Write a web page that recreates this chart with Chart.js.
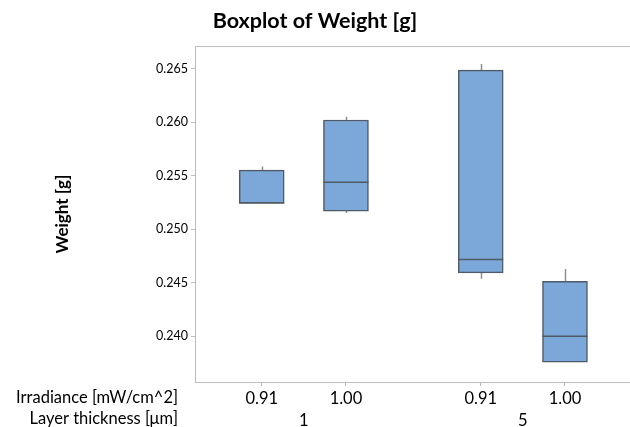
<!DOCTYPE html>
<html>
<head>
<meta charset="utf-8">
<script src="https://cdn.jsdelivr.net/npm/chart.js@4/dist/chart.umd.min.js"></script>
<style>
html,body{margin:0;padding:0;background:#fff;overflow:hidden;}
#wrap{width:630px;height:427px;position:relative;}
</style>
</head>
<body>
<div id="wrap"><canvas id="c" width="630" height="427"></canvas></div>
<script>
// ---- data ----
const irradiance = ['0.91', '1.00', '0.91', '1.00'];
const thickness = ['1', '5'];
const boxPositions = [1, 2, 3.6, 4.6];
const groupCenters = [1.5, 4.1];
const whiskerLow = [0.25241, 0.25150, 0.24536, 0.23758];
const q1 = [0.25241, 0.25169, 0.24592, 0.23758];
const median = [0.25247, 0.25439, 0.24717, 0.24000];
const q3 = [0.25551, 0.26020, 0.26485, 0.24512];
const whiskerHigh = [0.25585, 0.26050, 0.26544, 0.24627];
const yTicks = [0.240, 0.245, 0.250, 0.255, 0.260, 0.265];
const rowTitles = ['Irradiance [mW/cm^2]', 'Layer thickness [\u03bcm]'];

const FONT = 'Lato, "Noto Sans", sans-serif';
const AXIS_GRAY = '#bdbdbd';

const boxPlugin = {
  id: 'boxParts',
  beforeDatasetsDraw(chart) {
    const ctx = chart.ctx, y = chart.scales.y, x = chart.scales.x;
    ctx.save();
    ctx.strokeStyle = '#8f8f8f';
    ctx.lineWidth = 1.5;
    boxPositions.forEach((p, i) => {
      const px = Math.round(x.getPixelForValue(p)) + 0.5;
      ctx.beginPath();
      ctx.moveTo(px, y.getPixelForValue(q3[i]));
      ctx.lineTo(px, y.getPixelForValue(whiskerHigh[i]));
      ctx.moveTo(px, y.getPixelForValue(q1[i]));
      ctx.lineTo(px, y.getPixelForValue(whiskerLow[i]));
      ctx.stroke();
    });
    ctx.restore();
  },
  afterDatasetsDraw(chart) {
    const ctx = chart.ctx, y = chart.scales.y;
    const meta = chart.getDatasetMeta(0);
    ctx.save();
    ctx.strokeStyle = '#4f5a66';
    ctx.lineWidth = 1.5;
    meta.data.forEach((bar, i) => {
      const py = y.getPixelForValue(median[i]);
      ctx.beginPath();
      ctx.moveTo(bar.x - bar.width / 2, py);
      ctx.lineTo(bar.x + bar.width / 2, py);
      ctx.stroke();
    });
    ctx.restore();
  },
  afterDraw(chart) {
    const ctx = chart.ctx, a = chart.chartArea;
    ctx.save();
    ctx.strokeStyle = AXIS_GRAY;
    ctx.lineWidth = 1;
    ctx.beginPath();
    ctx.moveTo(a.left, a.top + 0.5);
    ctx.lineTo(a.right, a.top + 0.5);
    ctx.stroke();
    ctx.fillStyle = '#000';
    ctx.font = '16.5px ' + FONT;
    ctx.textAlign = 'right';
    ctx.textBaseline = 'middle';
    ctx.fillText(rowTitles[0], 178, 398);
    ctx.fillText(rowTitles[1], 178, 419);
    ctx.restore();
  }
};

new Chart(document.getElementById('c'), {
  type: 'bar',
  data: {
    datasets: [{
      data: boxPositions.map((p, i) => ({ x: p, y: [q1[i], q3[i]] })),
      backgroundColor: '#7ba7d9',
      borderColor: '#4f5a66',
      borderWidth: 1.5,
      borderSkipped: false,
      barThickness: 45
    }]
  },
  options: {
    responsive: false,
    animation: false,
    layout: { padding: 0 },
    plugins: {
      legend: { display: false },
      tooltip: { enabled: false },
      title: {
        display: true,
        text: 'Boxplot of Weight [g]',
        color: '#000',
        font: { family: FONT, size: 21.5, weight: 'bold', lineHeight: 1.2 },
        padding: { top: 8, bottom: 12.2 }
      }
    },
    scales: {
      x: {
        type: 'linear',
        offset: false,
        min: 0.208,
        max: 5.372,
        afterBuildTicks(scale) {
          scale.ticks = boxPositions.map(v => ({ value: v }))
            .concat(groupCenters.map(v => ({ value: v })));
        },
        afterFit(scale) { scale.height = 45; },
        grid: {
          offset: false,
          drawOnChartArea: false,
          tickLength: 4,
          tickColor(ctx) {
            return ctx.index >= boxPositions.length ? 'rgba(0,0,0,0)' : AXIS_GRAY;
          }
        },
        border: { color: AXIS_GRAY },
        ticks: {
          color: '#000',
          font: { family: FONT, size: 16.5, lineHeight: 1.3 },
          padding: 2,
          maxRotation: 0,
          autoSkip: false,
          callback(value, index) {
            if (index < boxPositions.length) return [irradiance[index], ''];
            return ['', thickness[index - boxPositions.length]];
          }
        }
      },
      y: {
        min: 0.23572,
        max: 0.26711,
        afterBuildTicks(scale) {
          scale.ticks = yTicks.map(v => ({ value: v }));
        },
        afterFit(scale) { scale.width = 195; },
        grid: { drawOnChartArea: false, tickLength: 4, tickColor: AXIS_GRAY },
        border: { color: AXIS_GRAY },
        title: {
          display: true,
          text: 'Weight [g]',
          color: '#000',
          font: { family: FONT, size: 17, weight: 'bold' },
          padding: { top: 52, bottom: 0 }
        },
        ticks: {
          color: '#000',
          font: { family: FONT, size: 12.5 },
          padding: 3,
          callback(v) { return Number(v).toFixed(3); }
        }
      }
    }
  },
  plugins: [boxPlugin]
});
</script>
</body>
</html>
